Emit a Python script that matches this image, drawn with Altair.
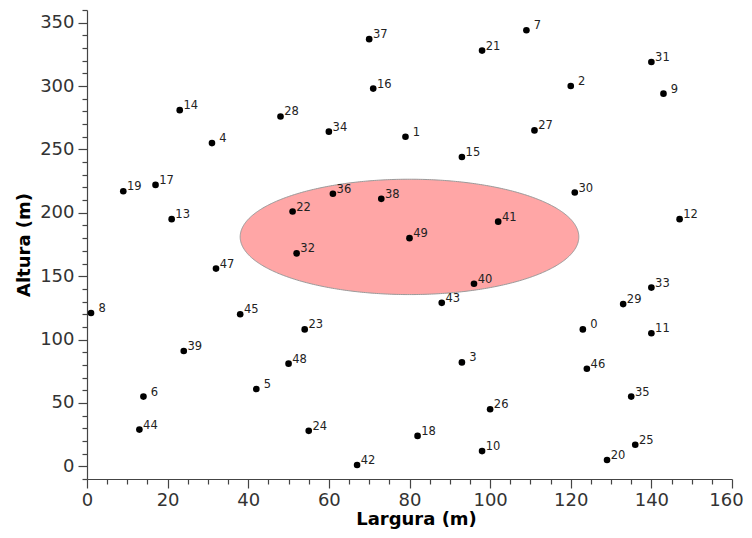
import altair as alt
import pandas as pd
import numpy as np

# Point identifiers and coordinates (m)
ids = list(range(50))
xs = [123, 79, 120, 93, 31, 42, 14, 109, 1, 143,
      98, 140, 147, 21, 23, 93, 71, 17, 82, 9,
      129, 98, 51, 54, 55, 136, 100, 111, 48, 133,
      121, 140, 52, 140, 60, 135, 61, 70, 73, 24,
      96, 102, 67, 88, 13, 38, 124, 32, 50, 80]
ys = [108, 260, 300, 82, 255, 61, 55, 344, 121, 294,
      12, 105, 195, 195, 281, 244, 298, 222, 24, 217,
      5, 328, 201, 108, 28, 17, 45, 265, 276, 128,
      216, 319, 168, 141, 264, 55, 215, 337, 211, 91,
      144, 193, 1, 129, 29, 120, 77, 156, 81, 180]

# Highlighted ellipse: center and semi-axes (m)
ell_cx, ell_cy = 80, 181
ell_rx, ell_ry = 42, 45.5

pts = pd.DataFrame({"id": ids, "x": xs, "y": ys})

t = np.linspace(0, np.pi, 241)
ell = pd.DataFrame({
    "x": ell_cx + ell_rx * np.cos(t),
    "y": ell_cy + ell_ry * np.sin(t),
    "y2": ell_cy - ell_ry * np.sin(t),
})

xscale = alt.Scale(domain=[0, 160], nice=False, zero=False)
yscale = alt.Scale(domain=[-10, 360], nice=False, zero=False)

xaxis = alt.Axis(
    values=list(range(0, 161, 5)),
    labelExpr="datum.value % 20 === 0 ? datum.label : ''",
    tickSize={"condition": {"test": "datum.value % 20 === 0", "value": 9}, "value": 5},
    labelOffset={"condition": {"test": "datum.value === 160", "value": -6}, "value": 0},
    labelOverlap=False, labelFlush=False, grid=False, labelPadding=3,
    title="Largura (m)", titleX=329, titlePadding=1,
)
yaxis = alt.Axis(
    values=list(range(-10, 361, 10)),
    labelExpr="(datum.value % 50 === 0 && datum.value >= 0) ? datum.label : ''",
    tickSize={"condition": {"test": "datum.value % 50 === 0", "value": 9}, "value": 5},
    labelOverlap=False, labelFlush=False, grid=False, labelPadding=4,
    title="Altura (m)", titlePadding=6,
)

ellipse = alt.Chart(ell).mark_area(
    fill="#ffa6a6", stroke="#9a9a9a", strokeWidth=1, opacity=1
).encode(
    x=alt.X("x:Q", scale=xscale, axis=xaxis),
    y=alt.Y("y:Q", scale=yscale, axis=yaxis),
    y2="y2:Q",
)

dots = alt.Chart(pts).mark_circle(size=44, color="black", opacity=1).encode(
    x=alt.X("x:Q", scale=xscale, axis=xaxis),
    y=alt.Y("y:Q", scale=yscale, axis=yaxis),
)

labels = alt.Chart(pts).mark_text(
    align="center", baseline="alphabetic", dx=11, dy=-1,
    fontSize=11.5, color="#222222", font="DejaVu Sans",
).encode(
    x=alt.X("x:Q", scale=xscale, axis=xaxis),
    y=alt.Y("y:Q", scale=yscale, axis=yaxis),
    text="id:N",
)

chart = alt.layer(ellipse, dots, labels).properties(
    width=645, height=469,
    autosize=alt.AutoSizeParams(type="none"),
    padding={"left": 79, "top": 2, "right": 12, "bottom": 51},
).configure_view(stroke=None).configure_axis(
    domainColor="#444444", tickColor="#444444", domainWidth=1.2, tickWidth=1.2,
    labelColor="#333333", labelFontSize=18, labelFont="DejaVu Sans",
    titleFontSize=18, titleFont="DejaVu Sans", titleFontWeight="bold", titleColor="#000000",
)

chart.save("out.html", embed_options={"renderer": "svg", "actions": False})
